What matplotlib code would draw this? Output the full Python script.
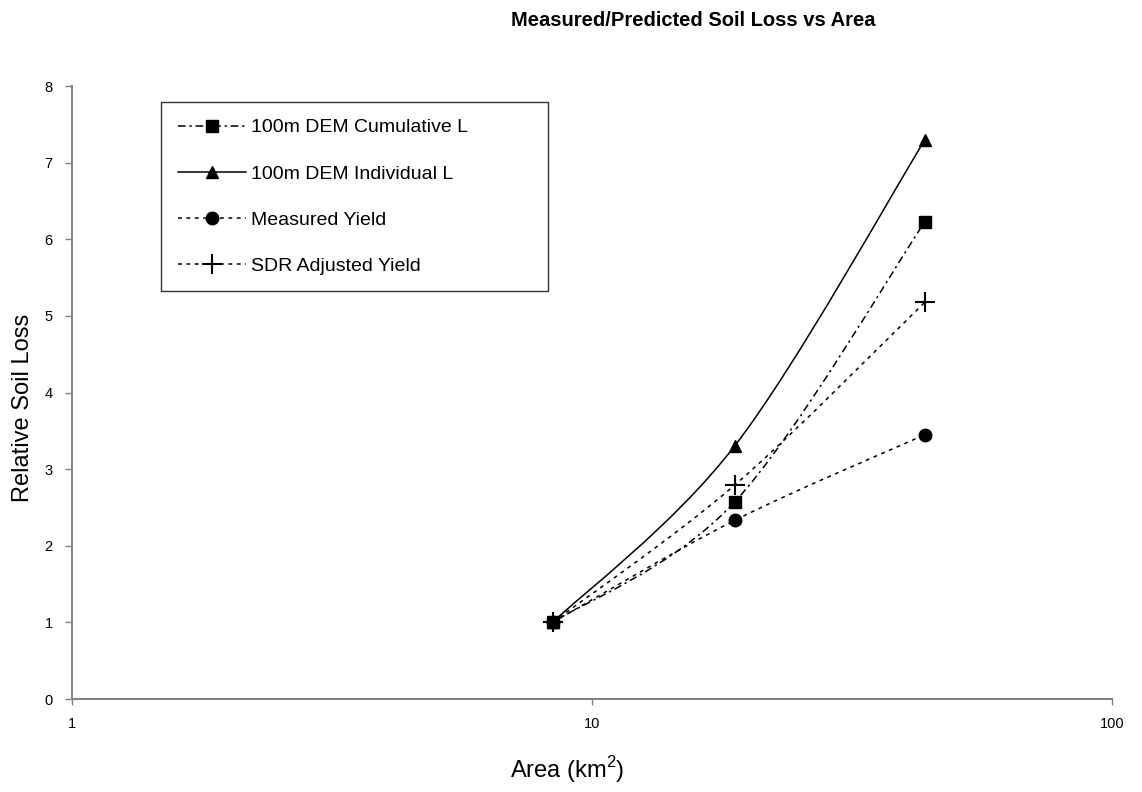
import numpy as np
import matplotlib
matplotlib.use("Agg")
import matplotlib.pyplot as plt
from matplotlib.path import Path
from matplotlib.patches import PathPatch
from matplotlib.lines import Line2D
from matplotlib.ticker import NullLocator

plt.rcParams['font.family'] = ['Liberation Sans', 'DejaVu Sans']
plt.rcParams['mathtext.fontset'] = 'custom'
plt.rcParams['mathtext.rm'] = 'Liberation Sans'

# data
area = [8.4, 18.8, 43.7]
cum_l = [1.0, 2.57, 6.23]
ind_l = [1.0, 3.30, 7.30]
measured = [1.0, 2.33, 3.45]
sdr = [1.0, 2.79, 5.18]
labels = ["100m DEM Cumulative L", "100m DEM Individual L",
          "Measured Yield", "SDR Adjusted Yield"]
x_ticks = [1, 10, 100]


def smooth_path(xs, ys):
    # excel style smoothed line: catmull-rom as beziers, in log-x space
    pts = np.column_stack([np.log10(xs), np.asarray(ys, float)])
    n = len(pts)
    verts = [pts[0]]
    codes = [Path.MOVETO]
    for i in range(n - 1):
        p0, p1 = pts[max(i - 1, 0)], pts[i]
        p2, p3 = pts[i + 1], pts[min(i + 2, n - 1)]
        verts += [p1 + (p2 - p0) / 6, p2 - (p3 - p1) / 6, p2]
        codes += [Path.CURVE4] * 3
    verts = np.array(verts)
    verts[:, 0] = 10 ** verts[:, 0]
    return Path(verts, codes)


styles = [
    dict(ls=(0, (5, 2.5, 1.5, 2.5)), marker="s", ms=8, mew=1),
    dict(ls="-", marker="^", ms=9, mew=1),
    dict(ls=(0, (2.5, 3)), marker="o", ms=9, mew=1),
    dict(ls=(0, (2.5, 3)), marker="+", ms=14, mew=1.5),
]

fig = plt.figure(figsize=(11.42, 7.92), dpi=100)
ax = fig.add_axes([0.063, 0.1174, 0.9107, 0.774])
ax.set_xscale("log")

handles = []
for vals, st, lab in zip([cum_l, ind_l, measured, sdr], styles, labels):
    ax.add_patch(PathPatch(smooth_path(area, vals), fill=False,
                           edgecolor="black", lw=1.1, linestyle=st["ls"]))
    ax.plot(area, vals, linestyle="none", marker=st["marker"], ms=st["ms"],
            mew=st["mew"], color="black", clip_on=False)
    handles.append(Line2D([], [], color="black", lw=1.1, linestyle=st["ls"],
                          marker=st["marker"], ms=st["ms"], mew=st["mew"]))

ax.set_xlim(1, 100)
ax.set_ylim(0, 8)
ax.set_xticks(x_ticks)
ax.set_xticklabels([str(t) for t in x_ticks])
ax.xaxis.set_minor_locator(NullLocator())
ax.set_yticks(range(0, 9))

for s in ["top", "right"]:
    ax.spines[s].set_visible(False)
for s in ["left", "bottom"]:
    ax.spines[s].set_color("#808080")
    ax.spines[s].set_linewidth(1.4)
ax.tick_params(axis="y", length=5, width=1, color="#808080", pad=9, labelsize=10.5)
ax.tick_params(axis="x", length=4, width=1, color="#808080", pad=9, labelsize=10.5)

leg = ax.legend(handles, labels, loc="upper left",
                bbox_to_anchor=(0.141, 0.624, 0.339, 0.247),
                bbox_transform=fig.transFigure, mode="expand",
                borderaxespad=0, fontsize=14, numpoints=1,
                handlelength=3.5, handletextpad=0.3, labelspacing=1.47,
                borderpad=0.85, fancybox=False, framealpha=1)
leg.get_frame().set_edgecolor("#333333")
leg.get_frame().set_linewidth(1.0)

fig.text(0.607, 0.9735, "Measured/Predicted Soil Loss vs Area",
         ha="center", va="center", fontsize=14.5, weight="bold")
fig.text(0.020, 0.485, "Relative Soil Loss", rotation=90,
         ha="center", va="center", fontsize=17)
fig.text(0.4965, 0.028, "Area (km$^{2}$)", ha="center", va="center",
         fontsize=17)

plt.savefig("out.png", dpi=100)
plt.close()
